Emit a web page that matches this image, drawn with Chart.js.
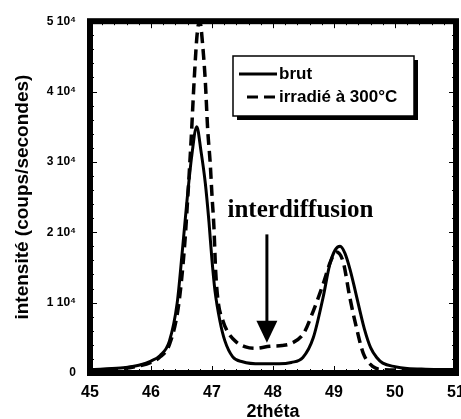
<!DOCTYPE html>
<html>
<head>
<meta charset="utf-8">
<script src="https://cdn.jsdelivr.net/npm/chart.js@4"></script>
<style>
html,body{margin:0;padding:0;background:#fff;}
#wrap{width:461px;height:419px;}
</style>
</head>
<body>
<div id="wrap"><canvas id="c" width="461" height="419"></canvas></div>
<script>
// brut
const brutX = [45.0,45.5,45.8,46.0,46.15,46.3,46.43,46.51,46.59,46.67,46.75,46.82,46.89,46.95,47.0,47.05,47.13,47.21,47.34,47.5,47.8,48.1,48.3,48.49,48.66,48.82,48.93,49.02,49.1,49.18,49.26,49.34,49.42,49.5,49.6,49.7,49.8,50.0,50.2,50.5,51.0];
const brutY = [500,700,1100,1700,2500,4500,10000,17000,24500,31000,35000,31500,27000,21500,16000,11600,7400,4600,2300,1600,1300,1300,1500,2200,5000,10700,15400,17500,18000,17000,14800,12000,9000,6200,3600,2200,1400,900,650,550,500];

// irradié à 300°C
const irrX = [45.0,45.5,45.8,46.0,46.15,46.3,46.45,46.55,46.61,46.66,46.71,46.76,46.8,46.85,46.89,46.93,46.97,47.0,47.03,47.06,47.1,47.18,47.26,47.4,47.55,47.7,47.95,48.15,48.3,48.5,48.66,48.82,48.95,49.04,49.15,49.26,49.38,49.48,49.64,49.8,50.2,51.0];
const irrY = [400,600,1000,1500,2300,4000,9500,18000,26000,33500,42000,48500,50000,46300,41500,34500,29900,25200,21000,14500,10200,7400,5800,4400,3700,3500,3800,3900,4200,5600,8800,12600,16000,17200,15800,10700,6000,2800,900,500,400,400];

const xTicks = [45,46,47,48,49,50,51];
const yTicks = [0,10000,20000,30000,40000,50000];
const yTickText = ["0","1 10\u2074","2 10\u2074","3 10\u2074","4 10\u2074","5 10\u2074"];

const pts = (xs,ys)=>xs.map((x,i)=>({x:x,y:ys[i]}));

const extras = {
id:"extras",
afterDatasetsDraw(chart){
const ctx=chart.ctx;
const a=chart.chartArea;
const xs=chart.scales.x, ys=chart.scales.y;
ctx.save();
ctx.strokeStyle="#000";
ctx.fillStyle="#000";

// inward ticks
ctx.lineWidth=1;
for(let v=45; v<=51.001; v+=0.2){
let px=Math.round(xs.getPixelForValue(v))+0.5;
let major=Math.abs(v-Math.round(v))<0.01;
let l=major?7:4;
ctx.beginPath();
ctx.moveTo(px,a.bottom);ctx.lineTo(px,a.bottom-l);
ctx.moveTo(px,a.top);ctx.lineTo(px,a.top+l);
ctx.stroke();
}
for(let v=0; v<=50000; v+=2000){
let py=Math.round(ys.getPixelForValue(v))+0.5;
let major=v%10000===0;
let l=major?7:4;
ctx.beginPath();
ctx.moveTo(a.left,py);ctx.lineTo(a.left+l,py);
ctx.moveTo(a.right,py);ctx.lineTo(a.right-l,py);
ctx.stroke();
}

// frame
ctx.lineWidth=6;
ctx.strokeRect(a.left,a.top,a.right-a.left,a.bottom-a.top);

// legend
let bx=233,by=56,bw=181,bh=60;
ctx.fillRect(bx+4,by+4,bw,bh);
ctx.fillStyle="#fff";
ctx.fillRect(bx,by,bw,bh);
ctx.lineWidth=1.5;
ctx.strokeRect(bx,by,bw,bh);
ctx.fillStyle="#000";
ctx.font="bold 17px 'Liberation Sans', Arial, sans-serif";
ctx.textBaseline="middle";
ctx.textAlign="left";
chart.data.datasets.forEach((d,i)=>{
let ly=by+18+i*23;
ctx.lineWidth=3;
ctx.setLineDash(d.borderDash||[]);
ctx.beginPath();
ctx.moveTo(i===0?239:247,ly);ctx.lineTo(277,ly);
ctx.stroke();
ctx.setLineDash([]);
ctx.fillText(d.label,279,ly);
});

// annotation
let ax=xs.getPixelForValue(47.9);
let yTop=ys.getPixelForValue(19700);
let yTip=ys.getPixelForValue(4300);
ctx.lineWidth=3;
ctx.beginPath();
ctx.moveTo(ax,yTop);ctx.lineTo(ax,yTip-20);
ctx.stroke();
ctx.beginPath();
ctx.moveTo(ax-10.5,yTip-22);ctx.lineTo(ax+10.5,yTip-22);ctx.lineTo(ax,yTip);
ctx.closePath();
ctx.fill();
ctx.font="bold 25px 'Liberation Serif', 'Times New Roman', serif";
ctx.textAlign="center";
ctx.textBaseline="alphabetic";
ctx.fillText("interdiffusion",xs.getPixelForValue(48.45),217);
ctx.restore();
}
};

new Chart(document.getElementById("c"),{
type:"line",
data:{
datasets:[
{label:"brut",data:pts(brutX,brutY),borderColor:"#000",borderWidth:3,pointRadius:0,cubicInterpolationMode:"monotone",fill:false},
{label:"irradié à 300°C",data:pts(irrX,irrY),borderColor:"#000",borderWidth:3.5,borderDash:[11,6],pointRadius:0,cubicInterpolationMode:"monotone",fill:false}
]
},
options:{
responsive:false,
animation:false,
events:[],
layout:{padding:{top:16,right:5,left:0,bottom:0}},
plugins:{legend:{display:false},tooltip:{enabled:false}},
scales:{
x:{
type:"linear",min:45,max:51,
afterBuildTicks:s=>{s.ticks=xTicks.map(v=>({value:v}));},
afterFit:s=>{s.height=46;s.paddingLeft=0;s.paddingRight=0;},
grid:{display:false,drawTicks:false},
border:{display:false},
ticks:{padding:10,color:"#000",font:{family:"'Liberation Sans', Arial, sans-serif",size:16,weight:"bold"},maxRotation:0},
title:{display:true,text:"2théta",color:"#000",padding:{top:0,bottom:-4},font:{family:"'Liberation Sans', Arial, sans-serif",size:18,weight:"bold"}}
},
y:{
min:0,max:50000,
afterBuildTicks:s=>{s.ticks=yTicks.map(v=>({value:v}));},
afterFit:s=>{s.width=90;},
grid:{display:false,drawTicks:false},
border:{display:false},
ticks:{padding:14,color:"#000",font:{family:"'Liberation Sans', Arial, sans-serif",size:12,weight:"bold"},callback:(v)=>yTickText[yTicks.indexOf(v)]},
title:{display:true,text:"intensité (coups/secondes)",color:"#000",padding:{top:11,bottom:0},font:{family:"'Liberation Sans', Arial, sans-serif",size:19,weight:"bold"}}
}
}
},
plugins:[extras]
});
</script>
</body>
</html>
